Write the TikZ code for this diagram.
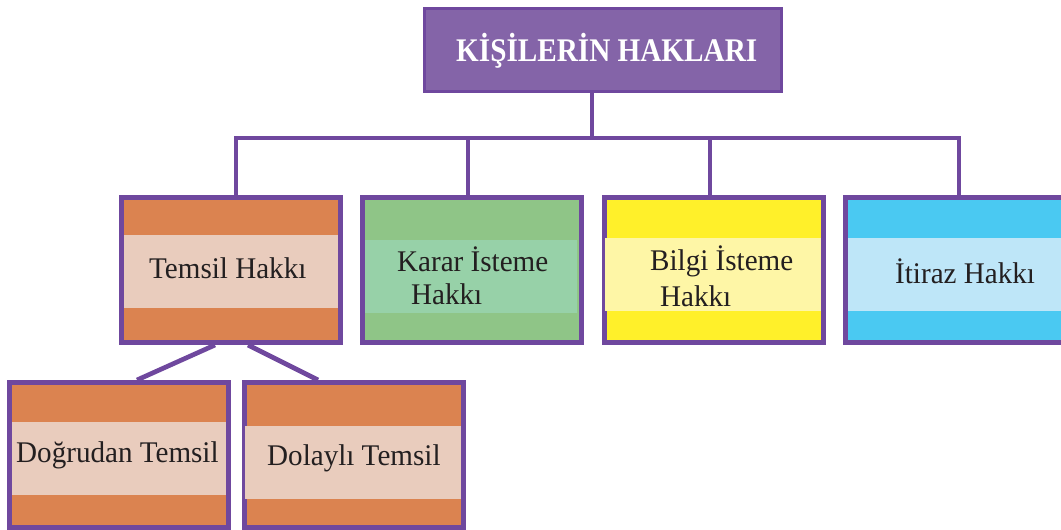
\documentclass[tikz,border=0pt]{standalone}
\usepackage{fontspec}
\setmainfont[FakeStretch=0.97]{Liberation Serif}
\newfontfamily\titlefont[FakeStretch=0.885]{Liberation Serif}
\usetikzlibrary{calc}
\definecolor{bord}{HTML}{6F489E}
\definecolor{topfill}{HTML}{8464A8}
\definecolor{orng}{HTML}{DB8350}
\definecolor{orngband}{HTML}{E9CCBD}
\definecolor{grn}{HTML}{8FC587}
\definecolor{grnband}{HTML}{97D1A8}
\definecolor{ylw}{HTML}{FFF02A}
\definecolor{ylwband}{HTML}{FEF6A6}
\definecolor{blu}{HTML}{4AC9F2}
\definecolor{bluband}{HTML}{BEE6F8}
\definecolor{txt}{HTML}{231F20}
\begin{document}
\begin{tikzpicture}[x=1pt,y=1pt,
  box/.style={draw=bord, line width=5pt, minimum width=219pt, minimum height=145pt, inner sep=0pt},
  link/.style={draw=bord, line width=4.7pt},
  lbl/.style={anchor=base west, inner sep=0pt, text=txt, font=\fontsize{30}{34}\selectfont}]
\useasboundingbox (0,0) rectangle (1061,-530);
% top box
\node[draw=bord, line width=3pt, fill=topfill, minimum width=357pt, minimum height=83pt, inner sep=0pt] (top) at (602.5,-49.5) {};
% level 1 boxes
\node[box, fill=orng] (temsil) at (231,-270) {};
\fill[orngband] (124,-235) rectangle (338,-308);
\node[box, fill=grn] (karar) at (472,-270) {};
\fill[grnband] (365,-240) rectangle (577,-313);
\node[box, fill=ylw] (bilgi) at (714,-270) {};
\fill[ylwband] (605,-238) rectangle (821,-311);
\node[box, fill=blu] (itiraz) at (955,-270) {};
\fill[bluband] (848,-238) rectangle (1062,-311);
% level 2 boxes
\node[box, fill=orng] (dogrudan) at (119,-455) {};
\fill[orngband] (12,-422) rectangle (226,-495);
\node[box, fill=orng] (dolayli) at (354,-455) {};
\fill[orngband] (245,-426) rectangle (461,-499);
% connectors
\coordinate (hub) at (592,-138);
\coordinate (d1) at (236,-138);
\coordinate (d2) at (468,-138);
\coordinate (d3) at (710,-138);
\coordinate (d4) at (959,-138);
\draw[link] (hub |- top.south) -- (hub);
\draw[link, line join=miter] (d1 |- temsil.north) -- (d1) -- (d4) -- (d4 |- itiraz.north);
\draw[link] (d2) -- (d2 |- karar.north);
\draw[link] (d3) -- (d3 |- bilgi.north);
\draw[link] ($(temsil.south)+(-16,0)$) -- ($(dogrudan.north)+(18,0)$);
\draw[link] ($(temsil.south)+(17,0)$) -- ($(dolayli.north)+(-36,0)$);
% labels
\node[anchor=base west, inner sep=0pt, text=white, font=\titlefont\bfseries\fontsize{33}{36}\selectfont] (titletxt) at (456,-61) {KİŞİLERİN HAKLARI};
\node[lbl] (temsiltxt) at (149,-278) {Temsil Hakkı};
\node[lbl] (karar1) at (397,-271) {Karar İsteme};
\node[lbl] (karar2) at (411,-304) {Hakkı};
\node[lbl] (bilgi1) at (650,-270) {Bilgi İsteme};
\node[lbl] (bilgi2) at (660,-306) {Hakkı};
\node[lbl] (itiraztxt) at (895,-283) {İtiraz Hakkı};
\node[lbl] (dogtxt) at (16,-462) {Doğrudan Temsil};
\node[lbl] (doltxt) at (267,-465) {Dolaylı Temsil};
\end{tikzpicture}
\end{document}
